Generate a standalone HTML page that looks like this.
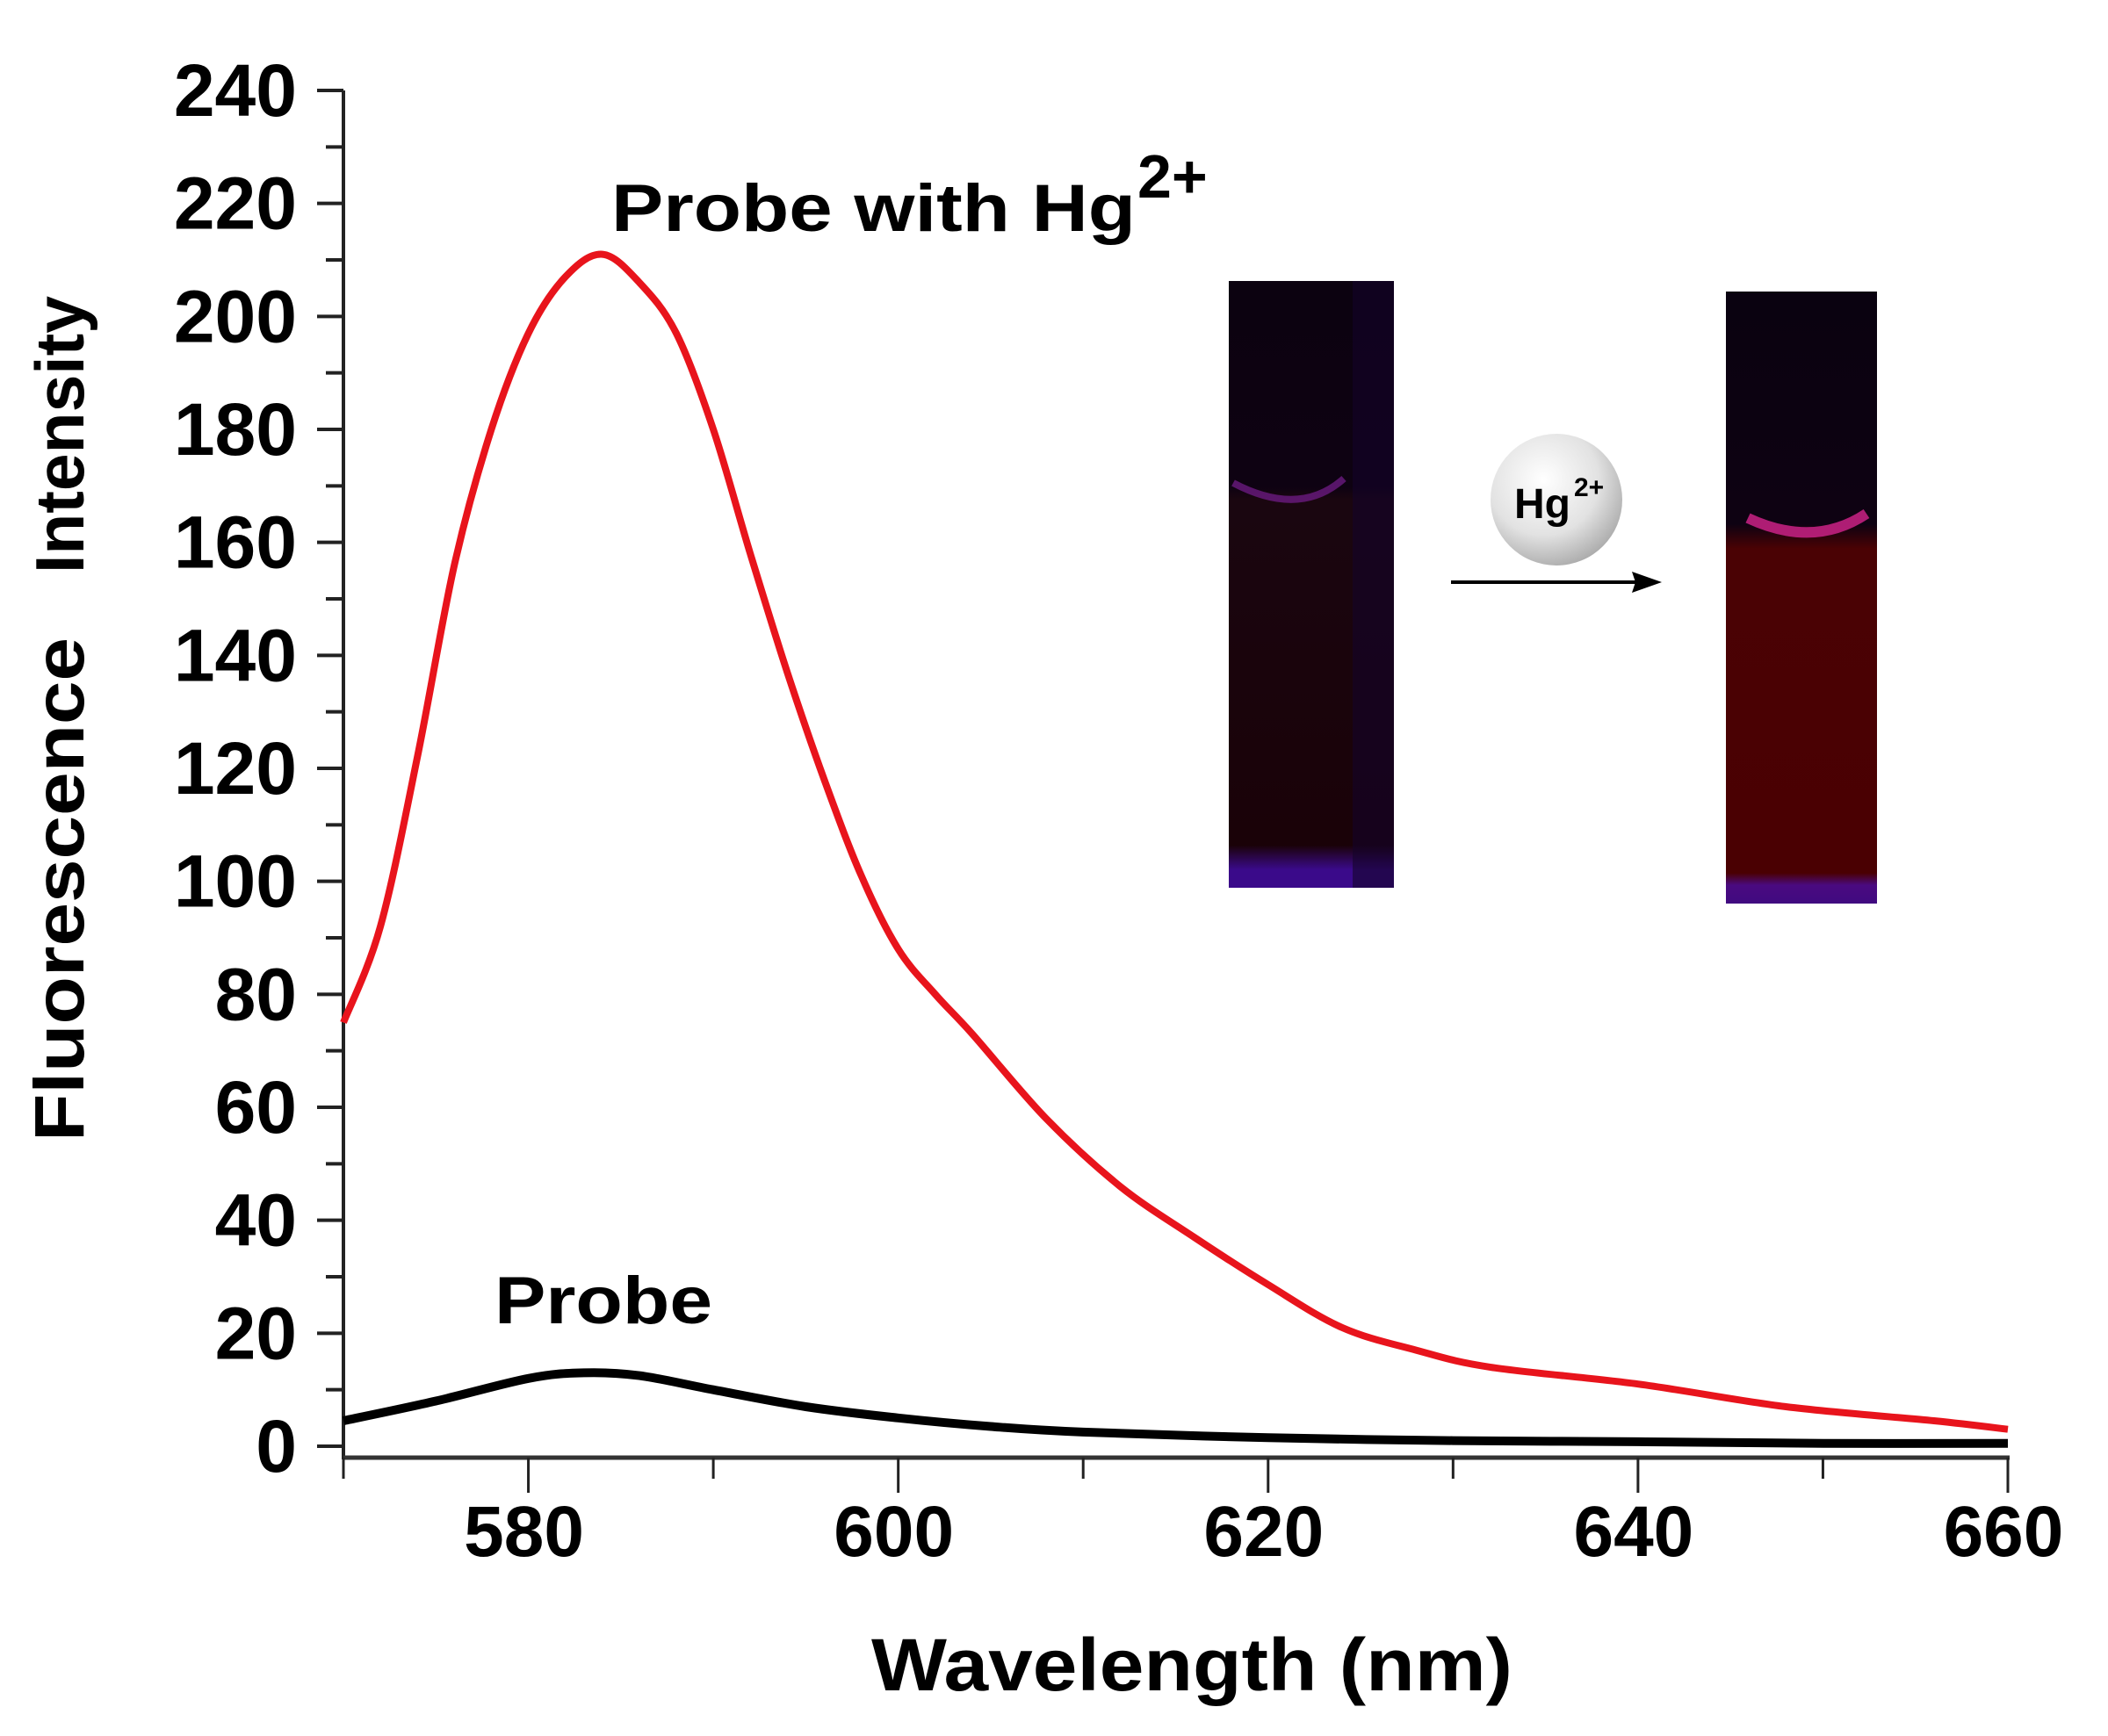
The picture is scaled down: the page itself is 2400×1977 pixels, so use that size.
<!DOCTYPE html>
<html><head><meta charset="utf-8"><style>
html,body{margin:0;padding:0;background:#fff;}
svg{display:block;}
text{font-family:"Liberation Sans",Arial,sans-serif;font-weight:bold;fill:#000;}
</style></head><body>
<svg id="chart" width="2400" height="1977" viewBox="0 0 2400 1977">
<defs>
<radialGradient id="ball" cx="40%" cy="35%" r="70%"><stop offset="0" stop-color="#fff"/><stop offset="0.6" stop-color="#e2e2e2"/><stop offset="1" stop-color="#a8a8a8"/></radialGradient>
<linearGradient id="tubeL" x1="0" y1="0" x2="0" y2="1"><stop offset="0" stop-color="#0c0210"/><stop offset="0.34" stop-color="#0e0212"/><stop offset="0.36" stop-color="#1a0610"/><stop offset="0.93" stop-color="#1a0208"/><stop offset="0.97" stop-color="#3a0a8a"/><stop offset="1" stop-color="#3a0a8a"/></linearGradient>
<linearGradient id="tubeR" x1="0" y1="0" x2="0" y2="1"><stop offset="0" stop-color="#0a0210"/><stop offset="0.38" stop-color="#0e0212"/><stop offset="0.42" stop-color="#4a0204"/><stop offset="0.95" stop-color="#4a0002"/><stop offset="0.97" stop-color="#4a0a80"/><stop offset="1" stop-color="#400a80"/></linearGradient>
</defs>
<g id="axes"></g>
<g id="series"></g>
<text x="0" y="0" transform="translate(95,1300) rotate(-90)" font-size="80" textLength="574" lengthAdjust="spacingAndGlyphs">Fluorescence</text>
<text x="0" y="0" transform="translate(95,653) rotate(-90)" font-size="78" textLength="316" lengthAdjust="spacingAndGlyphs">Intensity</text>
<text x="992" y="1925" font-size="84" textLength="730" lengthAdjust="spacingAndGlyphs">Wavelength (nm)</text>
<text x="696" y="263" font-size="76" textLength="597" lengthAdjust="spacingAndGlyphs">Probe with Hg</text>
<text x="1295" y="225" font-size="70">2+</text>
<text x="563" y="1507" font-size="76" textLength="248" lengthAdjust="spacingAndGlyphs">Probe</text>
<g>
<rect x="1399" y="320" width="188" height="691" fill="url(#tubeL)"/>
<rect x="1540" y="320" width="47" height="691" fill="#14042a" opacity="0.6"/>
<path d="M1404 550 Q1480 590 1530 545" stroke="#6a1a80" stroke-width="8" fill="none" opacity="0.8"/>
<rect x="1965" y="332" width="172" height="697" fill="url(#tubeR)"/>
<path d="M1990 590 Q2065 625 2125 585" stroke="#c02080" stroke-width="12" fill="none" opacity="0.9"/>
<circle cx="1772" cy="569" r="75" fill="url(#ball)"/>
<text x="1724" y="590" font-size="48">Hg</text>
<text x="1792" y="565" font-size="30">2+</text>
<line x1="1652" y1="663" x2="1870" y2="663" stroke="#000" stroke-width="4"/>
<polygon points="1892,663 1858,651 1862,663 1858,675" fill="#000"/>
</g>
</svg>
<script>
const xTicks = [580, 600, 620, 640, 660];
const yTicks = [0, 20, 40, 60, 80, 100, 120, 140, 160, 180, 200, 220, 240];
const wavelengths = [570,572,574,576,578,580,582,584,586,588,590,592,594,596,598,600,602,604,608,612,616,620,624,628,632,640,648,656,660];
const hgIntensity = [75,92,122,156,180,197,207,211,206,197,180,158,137,118,101,88,80,73,58,46,37,28.6,21,17,14,11,7,4.5,3];
const probeWl = [570,575,580,583,586,590,595,600,605,610,620,630,640,650,660];
const probeIntensity = [4.5,8,12,13,12.5,10,7,5,3.5,2.5,1.5,1,0.8,0.5,0.5];

const NS = 'http://www.w3.org/2000/svg';
const X0 = 391, X1 = 2286, XMIN = 570, XMAX = 660;
const Y0 = 1647, Y1 = 103, YMIN = 0, YMAX = 240;
function sx(v){ return X0 + (v - XMIN) / (XMAX - XMIN) * (X1 - X0); }
function sy(v){ return Y0 - (v - YMIN) / (YMAX - YMIN) * (Y0 - Y1); }
function mk(tag, attrs, parent){ const e = document.createElementNS(NS, tag); for (const k in attrs) e.setAttribute(k, attrs[k]); parent.appendChild(e); return e; }

const axes = document.getElementById('axes');
let yl = mk('line', {x1:X0, y1:Y1, x2:X0, y2:1662, stroke:'#222', 'stroke-width':4}, axes);


let xl = mk('line', {x1:X0, y1:1660, x2:X1+2, y2:1660, stroke:'#333', 'stroke-width':5}, axes);


for (let v = 0; v <= 240; v += 10) {
  const t = mk('line', {x1:X0 - (v % 20 === 0 ? 30 : 20), y1:sy(v), x2:X0, y2:sy(v), stroke:'#222', 'stroke-width':4}, axes);
  
  
}
yTicks.forEach(v => {
  const t = mk('text', {x:338, y:sy(v) + 29, 'font-size':84, 'text-anchor':'end'}, axes);
  t.textContent = v;
  
  
});
for (let v = 570; v <= 660; v += 10) {
  const t = mk('line', {x1:sx(v), y1:1660, x2:sx(v), y2:1660 + (v % 20 === 0 ? 40 : 24), stroke:'#222', 'stroke-width':3}, axes);
  
  
}
xTicks.forEach(v => {
  const t = mk('text', {x:sx(v) - 5, y:1772, 'font-size':82, 'text-anchor':'middle'}, axes);
  t.textContent = v;
  
  
});

const series = document.getElementById('series');
function path(xs, ys){
  const p = xs.map((x,i)=>[sx(x), sy(ys[i])]);
  let d = 'M' + p[0][0].toFixed(1) + ' ' + p[0][1].toFixed(1);
  for (let i = 0; i < p.length - 1; i++) {
    const a = p[Math.max(0,i-1)], b = p[i], c = p[i+1], e = p[Math.min(p.length-1,i+2)];
    const c1 = [b[0] + (c[0]-a[0])/6, b[1] + (c[1]-a[1])/6];
    const c2 = [c[0] - (e[0]-b[0])/6, c[1] - (e[1]-b[1])/6];
    d += ' C' + c1.map(v=>v.toFixed(1)).join(' ') + ' ' + c2.map(v=>v.toFixed(1)).join(' ') + ' ' + c[0].toFixed(1) + ' ' + c[1].toFixed(1);
  }
  return d;
}
const red = mk('path', {d:path(wavelengths, hgIntensity), stroke:'#e8141c', 'stroke-width':8, fill:'none', 'stroke-linejoin':'round'}, series);


const blk = mk('path', {d:path(probeWl, probeIntensity), stroke:'#000', 'stroke-width':10, fill:'none', 'stroke-linejoin':'round'}, series);


</script>
</body></html>
